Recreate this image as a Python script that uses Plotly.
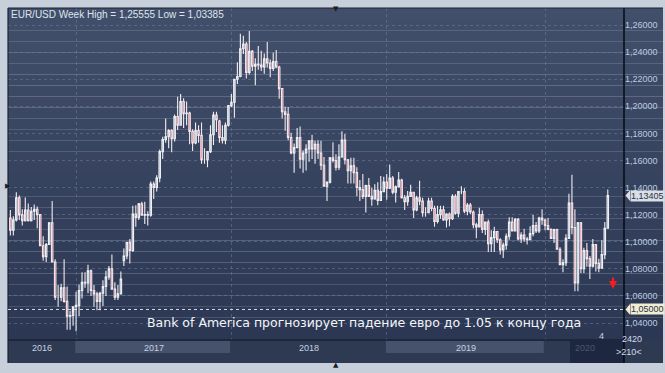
import pandas as pd
import plotly.graph_objects as go

# ---------------- data: EUR/USD weekly candles (Aug 2016 - Jun 2020) ----------------
opens = [
    # 2016
    1.1175, 1.1086, 1.1161, 1.1325, 1.1198, 1.1155, 1.1233, 1.1155, 1.1225, 1.1240, 1.1200,
    1.0970, 1.0890, 1.0980, 1.1140, 1.0850, 1.0590, 1.0590, 1.0660, 1.0560, 1.0450, 1.0455,
    # 2017
    1.0520, 1.0530, 1.0640, 1.0700, 1.0695, 1.0785, 1.0640, 1.0615, 1.0560, 1.0620, 1.0670,
    1.0740, 1.0800, 1.0650, 1.0590, 1.0615, 1.0860, 1.0895, 1.0995, 1.0935, 1.1205, 1.1180,
    1.1280, 1.1195, 1.1200, 1.1195, 1.1425, 1.1400, 1.1470, 1.1665, 1.1755, 1.1775, 1.1820,
    1.1760, 1.1925, 1.1860, 1.2035, 1.1945, 1.1950, 1.1815, 1.1730, 1.1820, 1.1785, 1.1605,
    1.1605, 1.1665, 1.1790, 1.1935, 1.1890, 1.1770, 1.1750, 1.1860,
    # 2018
    1.2005, 1.2030, 1.2200, 1.2220, 1.2425, 1.2460, 1.2250, 1.2405, 1.2295, 1.2310, 1.2305,
    1.2290, 1.2350, 1.2320, 1.2280, 1.2330, 1.2290, 1.2130, 1.1960, 1.1940, 1.1770, 1.1655,
    1.1695, 1.1770, 1.1610, 1.1655, 1.1685, 1.1745, 1.1685, 1.1720, 1.1655, 1.1565, 1.1410,
    1.1440, 1.1620, 1.1600, 1.1550, 1.1625, 1.1750, 1.1605, 1.1525, 1.1560, 1.1510, 1.1400,
    1.1385, 1.1335, 1.1415, 1.1335, 1.1315, 1.1380, 1.1305, 1.1370,
    # 2019
    1.1440, 1.1395, 1.1470, 1.1365, 1.1405, 1.1455, 1.1325, 1.1295, 1.1335, 1.1365, 1.1235,
    1.1325, 1.1300, 1.1215, 1.1215, 1.1300, 1.1245, 1.1150, 1.1200, 1.1235, 1.1160, 1.1205,
    1.1170, 1.1335, 1.1210, 1.1370, 1.1370, 1.1225, 1.1270, 1.1220, 1.1125, 1.1110, 1.1200,
    1.1090, 1.1145, 1.0985, 1.1030, 1.1075, 1.1015, 1.0940, 1.0975, 1.1040, 1.1145, 1.1080,
    1.1165, 1.1020, 1.1050, 1.1020, 1.1015, 1.1060, 1.1120, 1.1080, 1.1175,
    # 2020
    1.1160, 1.1120, 1.1090, 1.1025, 1.1090, 1.0945, 1.0830, 1.0845, 1.1025, 1.1285, 1.1105,
    1.0695, 1.1140, 1.0800, 1.0935, 1.0875, 1.0820, 1.0980, 1.0840, 1.0805, 1.0905, 1.1100,
]
highs = [
    1.1235, 1.1189, 1.1366, 1.1342, 1.1240, 1.1327, 1.1283, 1.1257, 1.1275, 1.1260, 1.1205,
    1.1040, 1.0990, 1.1145, 1.1300, 1.0870, 1.0680, 1.0690, 1.0870, 1.0670, 1.0490, 1.0480,
    1.0630, 1.0685, 1.0775, 1.0775, 1.0830, 1.0795, 1.0680, 1.0630, 1.0630, 1.0715, 1.0785,
    1.0820, 1.0905, 1.0700, 1.0680, 1.0780, 1.0950, 1.0995, 1.1020, 1.1265, 1.1270, 1.1285,
    1.1295, 1.1295, 1.1225, 1.1445, 1.1445, 1.1490, 1.1680, 1.1775, 1.1910, 1.1830, 1.1830,
    1.1940, 1.2070, 1.2090, 1.2060, 1.2035, 1.1960, 1.1830, 1.1880, 1.1860, 1.1880, 1.1690,
    1.1670, 1.1860, 1.1960, 1.1960, 1.1900, 1.1860, 1.1880, 1.2005,
    1.2090, 1.2200, 1.2325, 1.2535, 1.2520, 1.2475, 1.2555, 1.2415, 1.2355, 1.2445, 1.2410,
    1.2390, 1.2475, 1.2345, 1.2395, 1.2415, 1.2300, 1.2135, 1.1995, 1.1995, 1.1805, 1.1725,
    1.1840, 1.1850, 1.1675, 1.1720, 1.1745, 1.1790, 1.1745, 1.1750, 1.1745, 1.1625, 1.1445,
    1.1625, 1.1735, 1.1645, 1.1720, 1.1815, 1.1795, 1.1610, 1.1620, 1.1620, 1.1550, 1.1455,
    1.1500, 1.1420, 1.1470, 1.1400, 1.1425, 1.1440, 1.1485, 1.1480,
    1.1500, 1.1570, 1.1485, 1.1415, 1.1515, 1.1465, 1.1345, 1.1375, 1.1420, 1.1365, 1.1340,
    1.1450, 1.1325, 1.1255, 1.1325, 1.1325, 1.1265, 1.1265, 1.1265, 1.1265, 1.1210, 1.1215,
    1.1350, 1.1350, 1.1370, 1.1410, 1.1395, 1.1285, 1.1285, 1.1230, 1.1140, 1.1250, 1.1230,
    1.1150, 1.1165, 1.1085, 1.1110, 1.1075, 1.1025, 1.0995, 1.1060, 1.1180, 1.1180, 1.1175,
    1.1175, 1.1070, 1.1095, 1.1035, 1.1115, 1.1200, 1.1145, 1.1185, 1.1240,
    1.1170, 1.1175, 1.1100, 1.1095, 1.1095, 1.0960, 1.0870, 1.1055, 1.1355, 1.1495, 1.1240,
    1.1145, 1.1145, 1.0955, 1.0990, 1.0895, 1.1020, 1.0980, 1.0875, 1.1010, 1.1145, 1.1385,
]
lows = [
    1.1046, 1.1046, 1.1150, 1.1160, 1.1120, 1.1150, 1.1150, 1.1150, 1.1160, 1.1100, 1.0970,
    1.0860, 1.0850, 1.0975, 1.0850, 1.0570, 1.0520, 1.0560, 1.0550, 1.0350, 1.0350, 1.0380,
    1.0340, 1.0450, 1.0580, 1.0660, 1.0620, 1.0600, 1.0520, 1.0495, 1.0495, 1.0525, 1.0600,
    1.0720, 1.0650, 1.0570, 1.0570, 1.0610, 1.0820, 1.0870, 1.0840, 1.0925, 1.1110, 1.1160,
    1.1195, 1.1130, 1.1120, 1.1185, 1.1315, 1.1370, 1.1440, 1.1610, 1.1730, 1.1690, 1.1660,
    1.1740, 1.1825, 1.1860, 1.1840, 1.1860, 1.1720, 1.1670, 1.1720, 1.1730, 1.1575, 1.1575,
    1.1550, 1.1655, 1.1715, 1.1810, 1.1730, 1.1725, 1.1720, 1.1850,
    1.1995, 1.1915, 1.2165, 1.2215, 1.2385, 1.2205, 1.2235, 1.2260, 1.2155, 1.2270, 1.2260,
    1.2240, 1.2285, 1.2215, 1.2260, 1.2280, 1.2055, 1.1910, 1.1820, 1.1750, 1.1645, 1.1510,
    1.1690, 1.1540, 1.1510, 1.1525, 1.1590, 1.1610, 1.1575, 1.1610, 1.1530, 1.1410, 1.1300,
    1.1430, 1.1585, 1.1525, 1.1530, 1.1620, 1.1570, 1.1430, 1.1430, 1.1430, 1.1335, 1.1300,
    1.1315, 1.1215, 1.1330, 1.1265, 1.1310, 1.1270, 1.1300, 1.1370,
    1.1310, 1.1390, 1.1350, 1.1290, 1.1405, 1.1320, 1.1235, 1.1265, 1.1330, 1.1175, 1.1225,
    1.1270, 1.1185, 1.1185, 1.1215, 1.1225, 1.1110, 1.1135, 1.1170, 1.1155, 1.1105, 1.1115,
    1.1160, 1.1200, 1.1180, 1.1350, 1.1210, 1.1195, 1.1205, 1.1100, 1.1025, 1.1110, 1.1065,
    1.1050, 1.0925, 1.0925, 1.0925, 1.0990, 1.0905, 1.0880, 1.0940, 1.1015, 1.1075, 1.1075,
    1.1010, 1.0990, 1.1000, 1.0980, 1.1015, 1.1040, 1.1065, 1.1065, 1.1125,
    1.1085, 1.1085, 1.1020, 1.0990, 1.0940, 1.0830, 1.0775, 1.0820, 1.1025, 1.1055, 1.0635,
    1.0635, 1.0770, 1.0770, 1.0815, 1.0725, 1.0810, 1.0780, 1.0775, 1.0800, 1.0870, 1.1095,
]
closes = [
    1.1086, 1.1161, 1.1325, 1.1198, 1.1155, 1.1233, 1.1155, 1.1225, 1.1240, 1.1200, 1.0970,
    1.0890, 1.0980, 1.1140, 1.0850, 1.0590, 1.0590, 1.0660, 1.0560, 1.0450, 1.0455, 1.0520,
    1.0530, 1.0640, 1.0700, 1.0695, 1.0785, 1.0640, 1.0615, 1.0560, 1.0620, 1.0670, 1.0740,
    1.0800, 1.0650, 1.0590, 1.0615, 1.0725, 1.0895, 1.0995, 1.0935, 1.1205, 1.1180, 1.1280,
    1.1195, 1.1200, 1.1195, 1.1425, 1.1400, 1.1470, 1.1665, 1.1755, 1.1775, 1.1820, 1.1760,
    1.1925, 1.1860, 1.2035, 1.1945, 1.1950, 1.1815, 1.1730, 1.1820, 1.1785, 1.1605, 1.1605,
    1.1665, 1.1790, 1.1935, 1.1900, 1.1770, 1.1750, 1.1860, 1.2005,
    1.2030, 1.2200, 1.2220, 1.2425, 1.2460, 1.2250, 1.2405, 1.2295, 1.2310, 1.2305, 1.2290,
    1.2350, 1.2320, 1.2280, 1.2330, 1.2290, 1.2130, 1.1960, 1.1940, 1.1770, 1.1655, 1.1695,
    1.1770, 1.1610, 1.1655, 1.1685, 1.1745, 1.1685, 1.1720, 1.1655, 1.1565, 1.1410, 1.1440,
    1.1620, 1.1600, 1.1550, 1.1625, 1.1750, 1.1605, 1.1525, 1.1560, 1.1510, 1.1400, 1.1385,
    1.1335, 1.1415, 1.1335, 1.1315, 1.1380, 1.1305, 1.1370, 1.1440,
    1.1395, 1.1470, 1.1365, 1.1405, 1.1455, 1.1325, 1.1295, 1.1335, 1.1365, 1.1235, 1.1325,
    1.1300, 1.1215, 1.1215, 1.1300, 1.1245, 1.1150, 1.1200, 1.1235, 1.1160, 1.1205, 1.1170,
    1.1335, 1.1210, 1.1370, 1.1370, 1.1225, 1.1270, 1.1220, 1.1125, 1.1110, 1.1200, 1.1090,
    1.1145, 1.0985, 1.1030, 1.1075, 1.1015, 1.0940, 1.0975, 1.1040, 1.1145, 1.1080, 1.1165,
    1.1020, 1.1050, 1.1020, 1.1015, 1.1060, 1.1120, 1.1080, 1.1175, 1.1160,
    1.1120, 1.1090, 1.1025, 1.1090, 1.0945, 1.0830, 1.0845, 1.1025, 1.1285, 1.1105, 1.0695,
    1.1140, 1.0800, 1.0935, 1.0875, 1.0820, 1.0980, 1.0840, 1.0805, 1.0905, 1.1100, 1.1340,
]
first_week = "2016-08-01"
year_labels = ["2016", "2017", "2018", "2019", "2020"]
year_starts = ["2016-01-04", "2017-01-02", "2018-01-01", "2018-12-31", "2020-01-06"]
y_ticks = [1.04, 1.06, 1.08, 1.10, 1.12, 1.14, 1.16, 1.18, 1.20, 1.22, 1.24, 1.26]
y_ticktext = ["1,04000", "1,06000", "1,08000", "1,10000", "1,12000", "1,14000",
              "1,16000", "1,18000", "1,20000", "1,22000", "1,24000", "1,26000"]
last_price = 1.13405
last_text = "1,13405"
target_price = 1.05
target_text = "1,05000"
title_text = "EUR/USD Week High = 1,25555 Low = 1,03385"
headline = "Bank of America прогнозирует падение евро до 1.05 к концу года"

weeks = pd.date_range(first_week, periods=len(opens), freq="7D")

# ---------------- geometry helpers (pixel -> paper) ----------------
W, H = 665, 373
L, R, T, B = 8, 624, 8, 340  # plot area in pixels
def px(x):
    return (x - L) / (R - L)
def py(y):
    return (B - y) / (B - T)

x_range = ["2016-07-26 12:00", "2020-07-09"]
y_range = [1.02745, 1.27255]

fig = go.Figure()
fig.add_trace(go.Candlestick(
    x=weeks, open=opens, high=highs, low=lows, close=closes,
    increasing=dict(line=dict(color="#eef0f4", width=1.1), fillcolor="#a3a9b8"),
    decreasing=dict(line=dict(color="#f2e8ec", width=1.1), fillcolor="#e43e5c"),
    whiskerwidth=0, showlegend=False, hoverinfo="skip",
))

shapes = []
# gradient background for plot + right axis column
top_c = (66, 79, 106)
bot_c = (43, 55, 83)
n = 30
for i in range(n):
    t = i / (n - 1)
    c = tuple(round(top_c[k] + (bot_c[k] - top_c[k]) * t) for k in range(3))
    shapes.append(dict(type="rect", xref="paper", yref="paper",
                       x0=px(L), x1=px(663), y0=1 - (i + 1) / n, y1=1 - i / n,
                       fillcolor="rgb(%d,%d,%d)" % c, line=dict(width=0), layer="below"))
# time axis row
shapes.append(dict(type="rect", xref="paper", yref="paper", x0=px(L), x1=px(663),
                   y0=py(363), y1=py(340), fillcolor="#2e3952", line=dict(width=0), layer="below"))
# year bands for 2017 and 2019
for i in (1, 3):
    shapes.append(dict(type="rect", xref="x", yref="paper",
                       x0=pd.Timestamp(year_starts[i]) - pd.Timedelta(days=2),
                       x1=pd.Timestamp(year_starts[i + 1]) - pd.Timedelta(days=3),
                       y0=py(353), y1=py(341), fillcolor="#46526c", line=dict(width=0), layer="below"))
# dark scroll band near the end
shapes.append(dict(type="rect", xref="paper", yref="paper", x0=px(570), x1=px(624),
                   y0=py(363), y1=py(341), fillcolor="#1e2740", line=dict(width=0), layer="below"))
# separator lines
shapes.append(dict(type="line", xref="paper", yref="paper", x0=px(L), x1=px(624), y0=py(340), y1=py(340),
                   line=dict(color="#1b2234", width=1.5)))
shapes.append(dict(type="line", xref="paper", yref="paper", x0=1, x1=1, y0=py(363), y1=py(8),
                   line=dict(color="#070a12", width=1.5)))
shapes.append(dict(type="line", xref="paper", yref="paper", x0=px(8), x1=px(8), y0=py(363), y1=py(8),
                   line=dict(color="#1c2232", width=1.2)))
shapes.append(dict(type="line", xref="paper", yref="paper", x0=px(8), x1=px(663), y0=py(8), y1=py(8),
                   line=dict(color="#1c2232", width=1)))
# target dotted line
shapes.append(dict(type="line", xref="paper", yref="y", x0=0, x1=1, y0=target_price, y1=target_price,
                   line=dict(color="rgba(235,238,245,0.9)", width=1, dash="dot")))
# price tag pointers
for price, col in ((last_price, "#d9dee7"), (target_price, "#f1edd3")):
    shapes.append(dict(type="path", xref="paper", yref="y",
                       path="M %f,%f L %f,%f L %f,%f Z" % (px(625.5), price, px(630), price + 0.0040,
                                                          px(630), price - 0.0040),
                       fillcolor=col, line=dict(width=0)))

annotations = []
annotations.append(dict(text=title_text, xref="paper", yref="paper", x=px(9), y=py(14),
                        xanchor="left", yanchor="middle", showarrow=False,
                        font=dict(family="Liberation Sans", size=10, color="#dfe5ef")))
annotations.append(dict(text=headline, xref="paper", yref="paper", x=px(363.5), y=py(322),
                        xanchor="center", yanchor="middle", showarrow=False,
                        font=dict(family="DejaVu Sans", size=12.5, color="#f4f6fa")))
for price, txt, col in ((last_price, last_text, "#d9dee7"), (target_price, target_text, "#f1edd3")):
    annotations.append(dict(text=txt, xref="paper", yref="y", x=px(629.5), y=price,
                            xanchor="left", yanchor="middle", showarrow=False, bgcolor=col,
                            borderpad=0, font=dict(family="Liberation Sans", size=9, color="#2a3142")))
# year labels
x0_date = pd.Timestamp(x_range[0])
x1_date = pd.Timestamp(x_range[1])
bounds = [max(pd.Timestamp(d), x0_date) for d in year_starts] + [x1_date]
for i, lab in enumerate(year_labels):
    mid = bounds[i] + (bounds[i + 1] - bounds[i]) / 2
    annotations.append(dict(text=lab, xref="x", yref="paper", x=mid, y=py(348),
                            xanchor="center", yanchor="middle", showarrow=False,
                            font=dict(family="Liberation Sans", size=9,
                                      color="#4b5772" if lab == "2020" else "#c6d1e4")))
annotations.append(dict(text="4", xref="paper", yref="paper", x=px(601), y=py(336),
                        xanchor="center", yanchor="middle",
                        showarrow=False, font=dict(family="Liberation Sans", size=9, color="#c6d1e4")))
annotations.append(dict(text="2420", xref="paper", yref="paper", x=px(644), y=py(346),
                        showarrow=False, font=dict(family="Liberation Sans", size=9, color="#d4dcea")))
annotations.append(dict(text="&gt;210&lt;", xref="paper", yref="paper", x=px(644), y=py(359),
                        showarrow=False, font=dict(family="Liberation Sans", size=9, color="#d4dcea")))
# red down arrow
annotations.append(dict(text="", xref="paper", yref="paper", x=px(613), y=py(289),
                        ax=0, ay=-13, showarrow=True, arrowhead=2, arrowsize=0.8,
                        arrowwidth=2, arrowcolor="#ff1a1a"))
# frame markers
annotations.append(dict(text="▼", xref="paper", yref="paper", x=px(336), y=py(3),
                        showarrow=False, font=dict(family="DejaVu Sans", size=7, color="#1a1d24")))
annotations.append(dict(text="▶", xref="paper", yref="paper", x=px(3), y=py(186),
                        showarrow=False, font=dict(family="DejaVu Sans", size=7, color="#1a1d24")))
annotations.append(dict(text="▲", xref="paper", yref="paper", x=px(336), y=py(371),
                        showarrow=False, font=dict(family="DejaVu Sans", size=7, color="#1a1d24")))

fig.update_layout(
    width=W, height=H, autosize=False,
    margin=dict(l=L, r=W - R, t=T, b=H - B, pad=0),
    paper_bgcolor="#c7cfda", plot_bgcolor="rgba(0,0,0,0)",
    shapes=shapes, annotations=annotations, showlegend=False,
    xaxis=dict(type="date", range=x_range, rangeslider=dict(visible=False),
               tickvals=year_starts[1:], showticklabels=False, ticks="",
               showgrid=True, gridcolor="rgba(120,136,168,0.45)", griddash="dot", gridwidth=1,
               zeroline=False, showline=False, fixedrange=True),
    yaxis=dict(range=y_range, side="right", tickvals=y_ticks, ticktext=y_ticktext, ticks="",
               showgrid=True, gridcolor="rgba(120,136,168,0.45)", griddash="dot", gridwidth=1,
               zeroline=False, showline=False, fixedrange=True,
               tickfont=dict(family="Liberation Sans", size=9, color="#bfcbe0")),
)

fig.write_html("out.html")
